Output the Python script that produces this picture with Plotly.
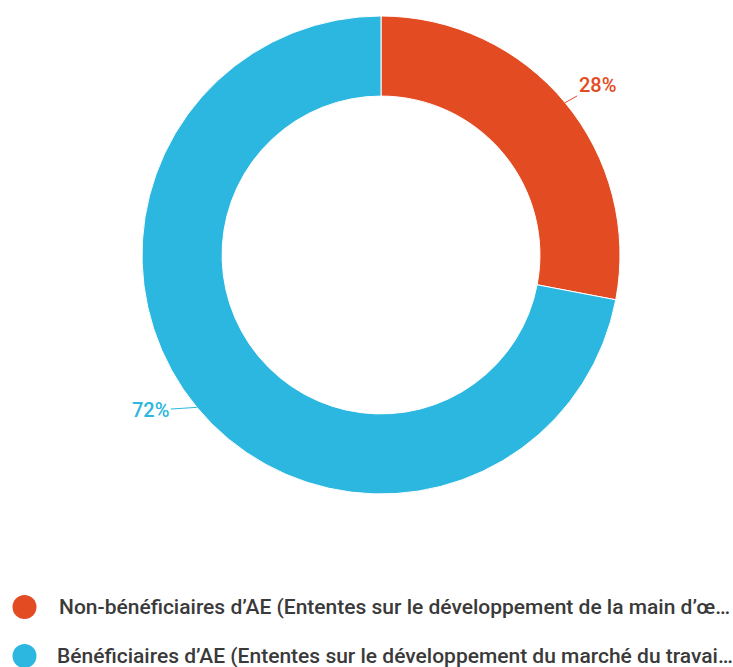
import numpy as np
import plotly.graph_objects as go

labels = [
    "Non-bénéficiaires d’AE (Ententes sur le développement de la main d’œ…",
    "Bénéficiaires d’AE (Ententes sur le développement du marché du travai…",
]
values = [28, 72]
colors = ["#E34B22", "#2CB7E0"]

W, H = 733, 667
L, T, D = 142, 16, 478  # pie domain in pixels


def px_x(x):
    return (x - L) / D


def px_y(y):
    return 1 - (y - T) / D


fig = go.Figure(go.Pie(
    labels=labels, values=values, hole=0.665, sort=False,
    direction="clockwise", rotation=0,
    marker=dict(colors=colors, line=dict(color="white", width=1)),
    textinfo="none", hoverinfo="label+percent", showlegend=False,
))

# percentage labels with leader lines, placed from the data
total = sum(values)
cum = np.cumsum([0] + values)
offsets = [(32, -18), (-46, 3)]
annotations = []
for i, v in enumerate(values):
    mid = (cum[i] + v / 2) / total * 2 * np.pi
    r = D / 2
    px = L + r + r * np.sin(mid)
    py = T + r - r * np.cos(mid)
    ax, ay = offsets[i]
    annotations.append(dict(
        x=px_x(px), y=px_y(py), xref="paper", yref="paper",
        text=f"{round(v / total * 100)}%", showarrow=True, arrowhead=0,
        arrowwidth=1, arrowcolor=colors[i], ax=ax, ay=ay,
        font=dict(family="Roboto", size=20, color=colors[i], weight=500),
    ))

# custom legend
shapes = []
for i, lab in enumerate(labels):
    cy = 607 + 49 * i
    shapes.append(dict(type="circle", xref="paper", yref="paper",
                       x0=px_x(12.5), x1=px_x(36.5), y0=px_y(cy + 12), y1=px_y(cy - 12),
                       fillcolor=colors[i], line=dict(width=0)))
    annotations.append(dict(
        x=px_x(57 - 2 * i), y=px_y(cy), xref="paper", yref="paper",
        xanchor="left", yanchor="middle", showarrow=False, text=lab,
        font=dict(family="Roboto", size=21, color="#3a3a3a", weight=500),
    ))

fig.update_layout(
    width=W, height=H,
    margin=dict(l=L, r=W - L - D, t=T, b=H - T - D),
    paper_bgcolor="white", plot_bgcolor="white",
    annotations=annotations, shapes=shapes,
)
fig.write_html("out.html")
